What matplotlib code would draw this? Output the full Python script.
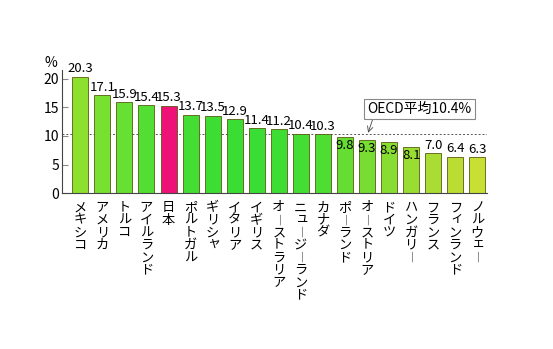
import matplotlib
matplotlib.use('Agg')
import matplotlib.pyplot as plt

plt.rcParams['font.family'] = ['Noto Sans CJK JP', 'DejaVu Sans']

countries = ['メキシコ', 'アメリカ', 'トルコ', 'アイルランド', '日本', 'ポルトガル',
             'ギリシャ', 'イタリア', 'イギリス', 'オーストラリア', 'ニュージーランド',
             'カナダ', 'ポーランド', 'オーストリア', 'ドイツ', 'ハンガリー',
             'フランス', 'フィンランド', 'ノルウェー']
values = [20.3, 17.1, 15.9, 15.4, 15.3, 13.7, 13.5, 12.9, 11.4, 11.2, 10.4,
          10.3, 9.8, 9.3, 8.9, 8.1, 7.0, 6.4, 6.3]
oecd_avg = 10.4
yticks = [0, 5, 10, 15, 20]

colors = ['#8ee02e', '#77e030', '#66e033', '#52de33', '#ee1177', '#44dd33',
          '#3ddd33', '#3add33', '#3add33', '#3ddd33', '#44dd33', '#4ddd33',
          '#66dd33', '#77dd33', '#88dd33', '#99dd33', '#aadd33', '#bbdd33', '#c8e033']
small_kana = set('ィュェャッ')

fig = plt.figure(figsize=(5.53, 3.49), dpi=100, facecolor='white')
ax = fig.add_axes([62 / 553, 1 - 193.3 / 349, 425 / 553, 123.3 / 349])

x = list(range(len(values)))
ax.bar(x, values, width=0.727, color=colors, edgecolor='#5a5a10', linewidth=0.6, zorder=2)
ax.axhline(oecd_avg, color='#555555', linestyle=(0, (2, 2)), linewidth=0.7, zorder=1)

ax.set_xlim(-0.83, 18.44)
ax.set_ylim(0, 21.5)
ax.set_yticks(yticks)
ax.set_xticks([])
ax.tick_params(axis='y', direction='in', length=4, color='#888888', labelsize=10, pad=2)
for s in ['top', 'right']:
    ax.spines[s].set_visible(False)
ax.spines['left'].set_color('#444444')
ax.spines['bottom'].set_color('#444444')
ax.spines['left'].set_linewidth(0.8)
ax.spines['bottom'].set_linewidth(0.8)

# value labels (some sit inside the bar under the average box)
for i, v in enumerate(values):
    if 12 <= i <= 15:
        ax.annotate(f'{v:.1f}', xy=(i, v), xytext=(0, -1.5), textcoords='offset points',
                    ha='center', va='top', fontsize=9.5)
    else:
        ax.annotate(f'{v:.1f}', xy=(i, v), xytext=(0, 1), textcoords='offset points',
                    ha='center', va='bottom', fontsize=9.5)

# vertical country names, one character per line
for i, name in enumerate(countries):
    for k, ch in enumerate(name):
        dx, dy, fs = 0, 0, 9.5
        if ch == 'ー':
            ch, fs = '｜', 7.5
        if ch in small_kana:
            dx, dy = 1.2, 1.2
        ax.annotate(ch, xy=(i, 0), xytext=(dx, -10.5 - k * 9 + dy),
                    textcoords='offset points', ha='center', va='center',
                    fontsize=fs, annotation_clip=False)

ax.text(-1.35, 22.8, '%', ha='center', va='center', fontsize=10, clip_on=False)

ax.text(15.38, 14.7, 'OECD平均10.4%', ha='center', va='center', fontsize=10,
        bbox=dict(boxstyle='square,pad=0.25', fc='white', ec='#888888', lw=0.8), zorder=4)
ax.annotate('', xy=(13.05, oecd_avg + 0.15), xytext=(13.3, 13.4),
            arrowprops=dict(arrowstyle='->', color='#444444', lw=0.6,
                            shrinkA=0, shrinkB=0))

fig.savefig('out.png', dpi=100, facecolor='white')
